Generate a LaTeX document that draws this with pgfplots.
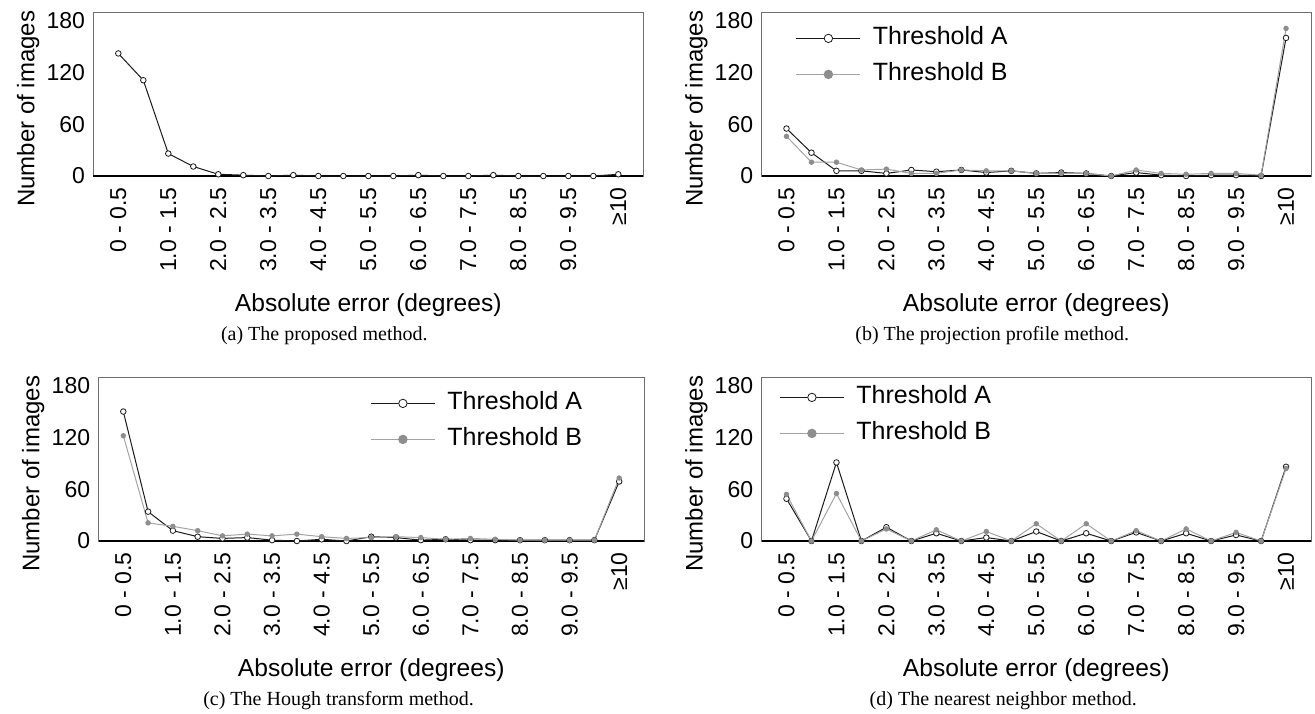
\documentclass[border=0pt]{standalone}
\usepackage{fontspec}
\setmainfont{Liberation Sans}
\newfontfamily\capfont{Liberation Serif}
\usepackage{pgfplots}
\usepackage{pgfplotstable}
\pgfplotsset{compat=1.18}

\definecolor{ca}{HTML}{1A1A1A}
\definecolor{cb}{HTML}{A3A3A3}
\definecolor{cbm}{HTML}{8E8E8E}
\definecolor{frame}{HTML}{6E6E6E}

% counts per error bin, A = threshold A, B = threshold B
\pgfplotstableread{
x a
0 142
1 111
2 26
3 11
4 2
5 1
6 0
7 1
8 0
9 0
10 0
11 0
12 1
13 0
14 0
15 1
16 0
17 0
18 0
19 0
20 2
}\dataa
\pgfplotstableread{
x a b
0 55 46
1 27 16
2 6 16
3 6 7
4 3 8
5 7 3
6 5 3
7 7 7
8 4 6
9 6 6
10 3 3
11 4 3
12 3 3
13 0 0
14 4 7
15 1 3
16 0 2
17 1 3
18 1 3
19 0 1
20 160 171
}\datab
\pgfplotstableread{
x a b
0 150 122
1 34 21
2 12 17
3 5 12
4 3 6
5 4 8
6 1 6
7 0 8
8 2 5
9 0 3
10 5 4
11 4 5
12 1 4
13 2 2
14 1 3
15 1 2
16 1 1
17 1 1
18 1 1
19 1 1
20 69 73
}\datac
\pgfplotstableread{
x a b
0 49 54
1 0 0
2 91 55
3 0 0
4 16 14
5 0 0
6 9 13
7 0 0
8 4 11
9 0 0
10 11 20
11 0 0
12 9 20
13 0 0
14 10 12
15 0 0
16 9 14
17 0 0
18 7 10
19 0 0
20 86 84
}\datad

\pgfplotsset{
  panel/.style={
    scale only axis, width=#1, height=82pt,
    xmin=-1, xmax=21, ymin=0, ymax=190,
    clip=false,
    axis line style={frame, line width=0.5pt},
    major tick length=0pt,
    ytick={0,60,120,180},
    xtick={0,2,...,20},
    xticklabels={0 - 0.5,1.0 - 1.5,2.0 - 2.5,3.0 - 3.5,4.0 - 4.5,5.0 - 5.5,6.0 - 6.5,7.0 - 7.5,8.0 - 8.5,9.0 - 9.5,≥10},
    /pgf/number format/assume math mode=true,
    yticklabel style={font=\fontsize{11.5}{13}\selectfont, inner sep=0pt, xshift=-4pt},
    xticklabel style={font=\fontsize{11.5}{13}\selectfont, inner sep=0pt, yshift=-5.5pt, rotate=90, anchor=east},
    xlabel={Absolute error (degrees)},
    ylabel={Number of images},
    xlabel style={font=\fontsize{12.3}{14}\selectfont, at={(axis description cs:0.5,0)}, anchor=center, yshift=-64.5pt},
    ylabel style={font=\fontsize{12}{14}\selectfont, at={([xshift=-29.5pt]axis description cs:0,0.41)}, anchor=base},
    legend style={draw=none, fill=none, inner sep=0pt,
      font=\fontsize{12.5}{14}\selectfont,
      nodes={inner sep=0pt, text height=9pt, text depth=3pt},
      row sep=6pt,
      /tikz/every odd column/.append style={column sep=6pt}},
    legend cell align=left,
    legend image code/.code={\draw[mark repeat=2,mark phase=2,##1,mark size=2.1pt] plot coordinates {(0pt,0pt) (16pt,0pt) (32pt,0pt)};},
  },
  serA/.style={color=ca, line width=0.5pt, mark=*, mark size=1.4pt, mark options={fill=white, draw=ca, line width=0.4pt}},
  serB/.style={color=cb, line width=0.5pt, mark=*, mark size=1.1pt, mark options={fill=cbm, draw=cbm}},
}

\begin{document}
\begin{tikzpicture}
\useasboundingbox (0,0) rectangle (657.5pt,-356.5pt);

% (a)
\begin{axis}[panel=275pt, at={(46.65pt,-88pt)}, anchor=south west]
\draw[black, line width=0.6pt] (axis description cs:0,0) -- (axis description cs:1,0);
\addplot[serA] table[x=x, y=a] {\dataa};
\node[font=\capfont\fontsize{10}{12}\selectfont] at ([yshift=-80pt]axis description cs:0.42,0) {(a) The proposed method.};
\end{axis}

% (b)
\begin{axis}[panel=274.75pt, at={(380.75pt,-88pt)}, anchor=south west,
  legend style={at={([xshift=17pt,yshift=-7pt]axis description cs:0,1)}, anchor=north west}]
\draw[black, line width=0.6pt] (axis description cs:0,0) -- (axis description cs:1,0);
\addplot[serA] table[x=x, y=a] {\datab};
\addplot[serB] table[x=x, y=b] {\datab};
\legend{Threshold A, Threshold B}
\node[font=\capfont\fontsize{10}{12}\selectfont] at ([yshift=-80pt]axis description cs:0.42,0) {(b) The projection profile method.};
\end{axis}

% (c)
\begin{axis}[panel=272.75pt, at={(49.25pt,-270.5pt)}, anchor=south west,
  legend style={at={([xshift=135.75pt,yshift=-7pt]axis description cs:0,1)}, anchor=north west}]
\draw[black, line width=0.6pt] (axis description cs:0,0) -- (axis description cs:1,0);
\addplot[serA] table[x=x, y=a] {\datac};
\addplot[serB] table[x=x, y=b] {\datac};
\legend{Threshold A, Threshold B}
\node[font=\capfont\fontsize{10}{12}\selectfont] at ([yshift=-80pt]axis description cs:0.44,0) {(c) The Hough transform method.};
\end{axis}

% (d)
\begin{axis}[panel=274.75pt, at={(380.75pt,-270.5pt)}, anchor=south west,
  legend style={at={([xshift=8.75pt,yshift=-4pt]axis description cs:0,1)}, anchor=north west}]
\draw[black, line width=0.6pt] (axis description cs:0,0) -- (axis description cs:1,0);
\addplot[serA] table[x=x, y=a] {\datad};
\addplot[serB] table[x=x, y=b] {\datad};
\legend{Threshold A, Threshold B}
\node[font=\capfont\fontsize{10}{12}\selectfont] at ([yshift=-80pt]axis description cs:0.44,0) {(d) The nearest neighbor method.};
\end{axis}
\end{tikzpicture}
\end{document}
